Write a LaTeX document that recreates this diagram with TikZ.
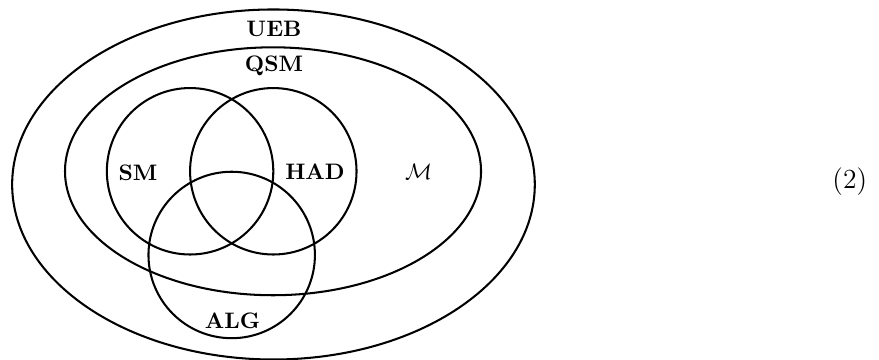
\documentclass[tikz,border=0pt]{standalone}
\usepackage{xcolor}
\usepackage{tikz}
\usetikzlibrary{positioning}

\begin{document}
\begin{tikzpicture}
  [
    Set/.style={draw=black, line width=1pt},
    Label/.style={inner sep=1pt, font=\fontsize{10.95}{13.6}\selectfont\bfseries}
  ]
  \useasboundingbox (-3.981, -3.242) rectangle (11.122, 2.943);

  % Sets (x, y)
  \draw[Set] (0.718, -0.227) ellipse (4.49 and 3.007);
  \draw[Set] (0.71, 0) ellipse (3.574 and 2.13);
  \draw[Set] (-0.715, 0) circle (1.43);
  \draw[Set] (0.715, 0) circle (1.43);
  \draw[Set] (0, -1.438) circle (1.43);

  % Labels
  \node[Label] (ueb) at(0.727, 2.445) {UEB};
  \node[Label] (qsm) at(0.727, 1.809) {QSM};
  \node[Label] (sm) at(-1.61, -0.02) {SM};
  \node[Label] (had) at(1.431, -0.01) {HAD};
  \node (m) at(3.21, -0.01) {\fontsize{10.95}{13.6}\selectfont$\mathcal{M}$};
  \node[Label] (alg) at(0.015, -2.572) {ALG};

  % Equation number
  \node (eqno) at(10.62, -0.18) {\fontsize{13.5}{16}\selectfont(2)};

\end{tikzpicture}
\end{document}
